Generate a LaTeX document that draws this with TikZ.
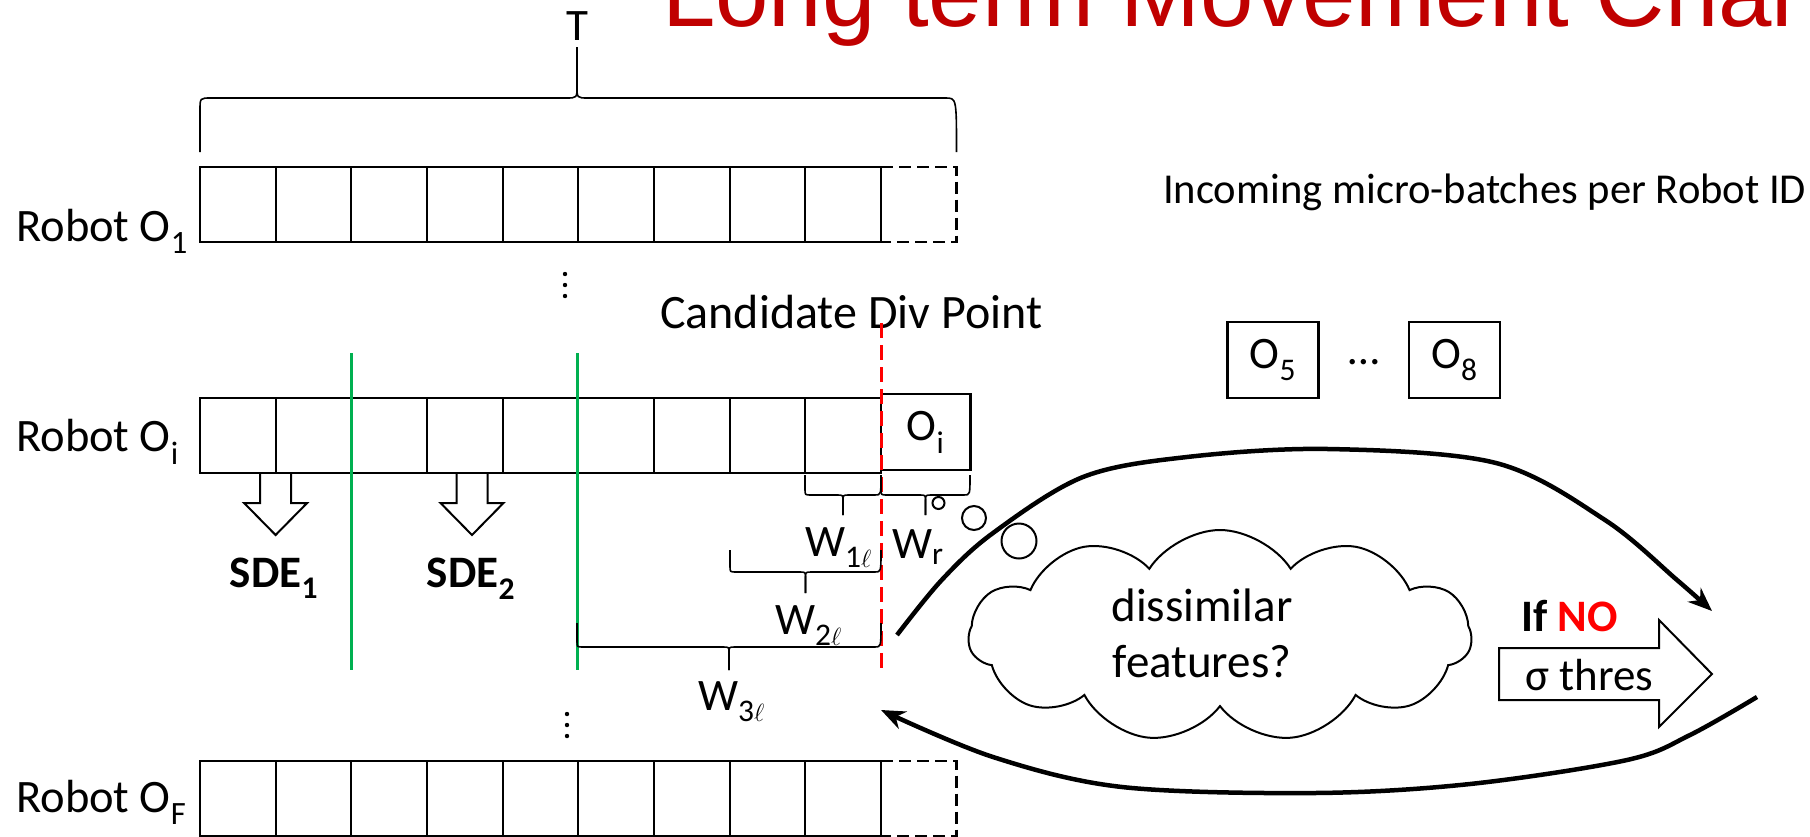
\documentclass[tikz,border=0pt]{standalone}
\usepackage{fontspec}
\setmainfont{Carlito}
\newfontfamily\titlefont{Liberation Sans}
\usetikzlibrary{shapes.symbols,arrows.meta}
\definecolor{titlered}{RGB}{192,0,0}
\definecolor{sgreen}{RGB}{0,176,80}
\definecolor{nored}{RGB}{255,0,0}
\tikzset{
  rowbox/.style={draw, line width=2.5pt},
  cellline/.style={line width=2pt},
  dashcell/.style={line width=2.5pt, dash pattern=on 12pt off 6pt},
  lbl/.style={inner sep=0pt, font=\fontsize{45}{54}\selectfont},
  rowlbl/.style={inner sep=0pt, font=\fontsize{46.5}{54}\selectfont},
  bracepath/.style={line width=1.6pt},
  divline/.style={draw=sgreen, line width=3pt},
  cand/.style={draw=nored, line width=3pt, dash pattern=on 15pt off 7pt},
  bigarc/.style={line width=4.5pt, -{Stealth[length=24pt,width=19pt]}},
  bubble/.style={draw, circle, line width=2pt, inner sep=0pt},
  sqbox/.style={draw, line width=2.5pt, minimum width=91pt, minimum height=76pt, inner sep=0pt, font=\fontsize{45}{54}\selectfont},
  downarrow/.style={draw, fill=white, line width=2pt, line join=miter},
}
% x1 x2 ytop ybar xtip ytip rx ry
\newcommand\hbrace[8]{%
  \draw[bracepath] (#1,#3) -- (#1,{#4-(#8)}) .. controls (#1,#4) .. ({#1+#7},#4) -- ({#5-#7},#4) .. controls (#5,#4) .. (#5,{#4+(#8)}) -- (#5,#6);
  \draw[bracepath] (#5,#6) -- (#5,{#4+(#8)}) .. controls (#5,#4) .. ({#5+#7},#4) -- ({#2-#7},#4) .. controls (#2,#4) .. (#2,#3);}
% centre x of a down block arrow
\newcommand\downblock[1]{%
  \draw[downarrow] ({#1-15.5},473) -- ({#1-15.5},503) -- ({#1-31.5},503) -- (#1,535) -- ({#1+31.5},503) -- ({#1+15.5},503) -- ({#1+15.5},473);}
\newcommand\cellrow[2]{% y top, with dashed end (1) or not (0)
  \ifnum#2=1
    \draw[dashcell] (881,#1) -- (956.5,#1) -- (956.5,{#1+75}) -- (881,{#1+75});
  \fi
  \draw[rowbox] (200,#1) rectangle (881,{#1+75});
  \foreach \k in {1,...,8} \draw[cellline] ({200+\k*75.67},#1) -- ++(0,75);}

\begin{document}
\begin{tikzpicture}[x=1pt,y=-1pt]
\useasboundingbox (0,0) rectangle (1810,836);
\clip (0,0) rectangle (1810,836);

% title (cut off at the top and right edges, as in the reference)
\node[anchor=base west, inner sep=0pt, text=titlered, font=\titlefont\fontsize{96}{110}\selectfont] (title) at (662,26) {Long term Movement Chal};

% T and brace
\node[lbl, anchor=base] (T) at (577,40) {T};
\hbrace{200}{956.5}{152}{98}{577}{47}{11}{-12}

% rows
\cellrow{167}{1}
\downblock{275.6}
\downblock{472}
\cellrow{398}{0}
\cellrow{761}{1}
\node[sqbox, minimum width=89.5pt, minimum height=76pt] (oi) at (925.5,432) {O\textsubscript{i}};

\node[rowlbl, anchor=base west] (r1) at (16,241) {Robot O\textsubscript{1}};
\node[rowlbl, anchor=base west] (ri) at (16,451) {Robot O\textsubscript{i}};
\node[rowlbl, anchor=base west] (rF) at (16,812) {Robot O\textsubscript{F}};

% vertical dots
\foreach \yy [count=\n] in {274,285,296} \fill (565,\yy) circle[radius=2.2pt];
\foreach \yy [count=\n] in {714,725,736} \fill (567,\yy) circle[radius=2.2pt];

% SDE labels
\node[lbl, anchor=base, font=\fontsize{45}{54}\selectfont\bfseries] (sde1) at (274,587) {SDE\textsubscript{1}};
\node[lbl, anchor=base, font=\fontsize{45}{54}\selectfont\bfseries] (sde2) at (471,587) {SDE\textsubscript{2}};

% green division lines
\draw[divline] (351.3,353) -- (351.3,670);
\draw[divline] (577,353) -- (577,670);

% candidate div point
\node[lbl, anchor=base west, font=\fontsize{48}{56}\selectfont] (cand) at (660,328) {Candidate Div Point};
\draw[cand] (881,323) -- (881,670);

% braces under row i
\hbrace{805}{881}{475}{495}{843}{515}{6}{6}
\hbrace{881}{970}{475}{495}{925.5}{515}{6}{6}
\hbrace{730}{881}{550}{572}{805.5}{593}{6}{6}
\hbrace{577}{881}{623}{647}{729}{670}{6}{6}
\node[lbl, anchor=base west] (w1) at (805,556) {W\textsubscript{1$\ell$}};
\node[lbl, anchor=base west] (wr) at (892,558) {W\textsubscript{r}};
\node[lbl, anchor=base west] (w2) at (775,634) {W\textsubscript{2$\ell$}};
\node[lbl, anchor=base west] (w3) at (698,710) {W\textsubscript{3$\ell$}};

% incoming
\node[lbl, anchor=base west, font=\fontsize{42.6}{50}\selectfont] (inc) at (1163,203) {Incoming micro-batches per Robot ID};
\node[sqbox] (o5) at (1273,360) {O\textsubscript{5}};
\node[sqbox] (o8) at (1454.5,360) {O\textsubscript{8}};
\node[lbl] (odots) at (1364,362) {\dots};

% thought bubbles and cloud
\node[bubble, minimum size=12pt] (b1) at (938.5,503) {};
\node[bubble, minimum size=24pt] (b2) at (974,518) {};
\node[bubble, minimum size=35pt] (b3) at (1019,541) {};
\node[cloud, draw, line width=2pt, cloud puffs=11, cloud puff arc=115, aspect=2.35,
      minimum width=503pt, minimum height=212pt, inner sep=0pt] (cl) at (1220,636) {};
\node[lbl, align=center, font=\fontsize{47}{56}\selectfont] (cltext) at (1202,633) {dissimilar\\features?};

% big arcs
\coordinate (us) at (897,635);
\coordinate (ue) at (1712,611);
\draw[bigarc] plot[smooth, tension=0.55] coordinates {(us) (941.7,580) (993,533) (1083,477) (1187,457) (1328,449) (1496,463) (1605,520) (1677,580) (ue)};
\coordinate (ls) at (1757,697);
\coordinate (le) at (881,710);
\draw[bigarc] plot[smooth, tension=0.55] coordinates {(ls) (1690,735) (1627,760) (1470,784) (1315,793) (1122,787) (993,757) (le)};

% if no + threshold arrow
\node[lbl, anchor=base west, font=\fontsize{45}{54}\selectfont\bfseries] (ifno) at (1521,631) {If \textcolor{nored}{NO}};
\draw[line width=2pt, line join=miter, fill=white] (1499,648) -- (1659,648) -- (1659,620) -- (1712,674) -- (1659,727) -- (1659,700) -- (1499,700) -- cycle;
\node[lbl, anchor=base west] (thres) at (1525,690) {σ thres};
\end{tikzpicture}
\end{document}
